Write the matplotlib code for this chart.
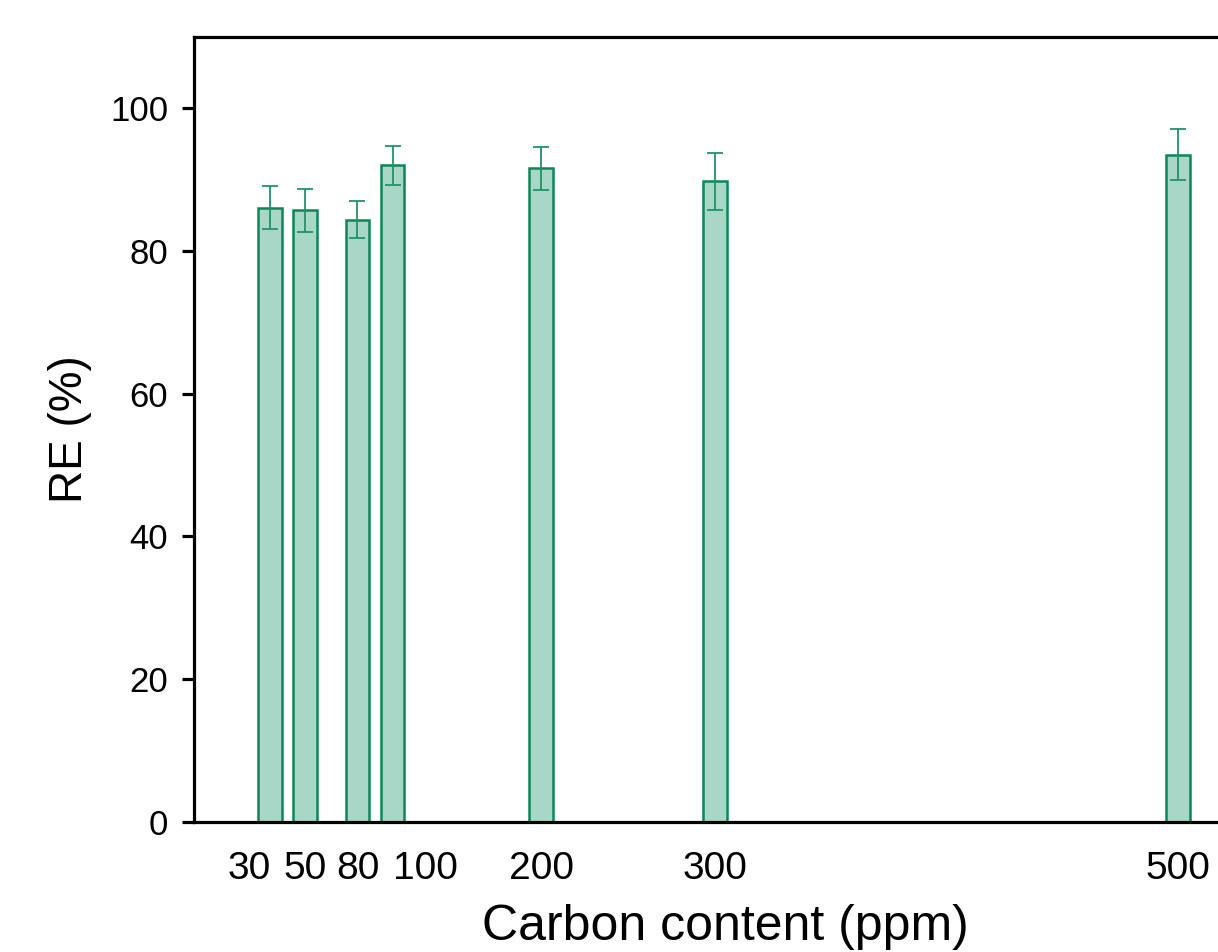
import matplotlib.pyplot as plt
import numpy as np

# carbon content (ppm) and removal efficiency RE (%)
carbon = ['30', '50', '80', '100', '200', '300', '500']
re_mean = [86.1, 85.7, 84.4, 92.0, 91.6, 89.8, 93.5]
re_err = [3.0, 3.0, 2.6, 2.75, 3.0, 4.0, 3.6]

# bar positions on the (uneven) x axis and where the labels sit
xpos = [30, 50, 80, 100, 185, 284, 549]
label_pos = [18, 50, 80, 119, 185, 284, 549]

plt.rcParams['font.family'] = ['Liberation Sans', 'DejaVu Sans']

fig = plt.figure(figsize=(12.18, 9.52), dpi=100)
ax = fig.add_axes([0.1593, 0.1366, 0.8527, 0.8246])

ax.bar(xpos, re_mean, width=13.7, color='#a8d7c7', edgecolor='#0b8758', linewidth=1.8)
ax.errorbar(xpos, re_mean, yerr=re_err, fmt='none', ecolor='#1f9468',
            elinewidth=1.3, capsize=5.8, capthick=1.3)

ax.set_xlim(-13.4, 580)
ax.set_ylim(0, 110)
ax.set_yticks(np.arange(0, 101, 20))
ax.set_xticks(label_pos)
ax.set_xticklabels(carbon)

for s in ax.spines.values():
    s.set_linewidth(2.3)

ax.tick_params(axis='y', direction='out', length=8.6, width=2.3, labelsize=25, pad=10)
ax.tick_params(axis='x', length=0, labelsize=28, pad=21)

ax.set_xlabel('Carbon content (ppm)', fontsize=36, labelpad=12, x=0.5115)
ax.set_ylabel('RE (%)', fontsize=33, labelpad=13)

plt.savefig('out.png', dpi=100)
